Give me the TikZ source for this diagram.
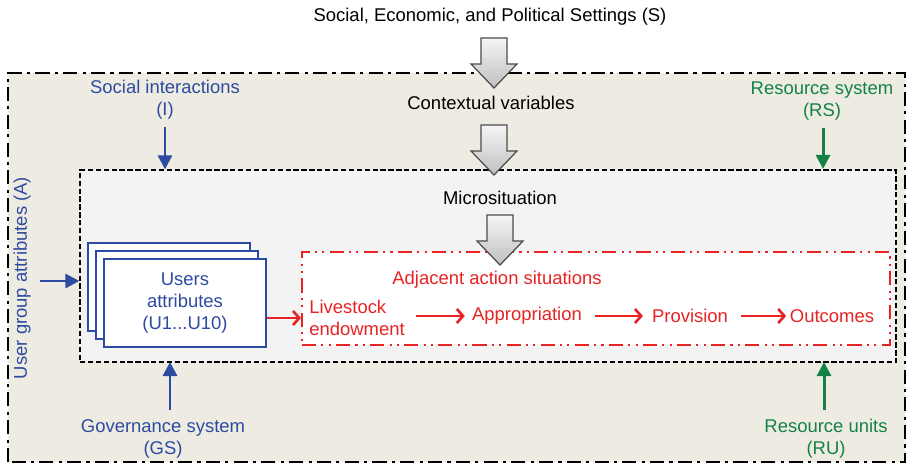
\documentclass[tikz,border=0pt]{standalone}
\usepackage{fontspec}
\setmainfont{Liberation Sans}
\usetikzlibrary{arrows.meta,positioning}
\definecolor{sesblue}{RGB}{45,75,160}
\definecolor{sesgreen}{RGB}{20,130,70}
\definecolor{sesred}{RGB}{232,35,35}
\definecolor{beige}{RGB}{238,236,226}
\definecolor{microgray}{RGB}{243,243,243}
\tikzset{%
  outerbox/.style = {draw, line width=1.3pt, fill=beige,%
                     dash pattern=on 8pt off 3pt on 1.8pt off 3pt},%
  microbox/.style = {draw, line width=0.7pt, fill=microgray,%
                     dash pattern=on 3pt off 1.5pt},%
  adjbox/.style   = {draw=sesred, line width=1.2pt, fill=white,%
                     dash pattern=on 8pt off 3pt on 1.2pt off 3pt on 1.2pt off 3pt},%
  userbox/.style  = {draw=sesblue, line width=1.1pt, fill=white,%
                     minimum width=3.24cm, minimum height=1.76cm},%
  txt/.style      = {align=center, font=\fontsize{10.5}{12.5}\selectfont},%
  redtxt/.style   = {txt, text=sesred, inner sep=1pt},%
  bluearrow/.style = {draw=sesblue, line width=1.7pt, -{Triangle[width=8pt,length=8pt]}},%
  greenarrow/.style = {bluearrow, draw=sesgreen},%
  redarrow/.style = {draw=sesred, line width=1.5pt, -{Straight Barb[length=3.5pt,width=8pt]}},%
  pics/grayarrow/.style = {code={%
     \draw[line width=0.7pt, draw=gray!60!black, top color=gray!8, bottom color=gray!50]
       (-0.26,0) -- (-0.26,-0.52) -- (-0.46,-0.52) -- (0,-1) -- (0.46,-0.52)
       -- (0.26,-0.52) -- (0.26,0) -- cycle;}}%
}
\begin{document}
\begin{tikzpicture}
  \useasboundingbox (0,0) rectangle (18.16,9.30);
  % outer frame and the two inner boxes
  \draw[outerbox] (0.16,0.06) rectangle (18.10,7.84);
  \node[microbox, minimum width=16.32cm, minimum height=3.84cm] (micro) at (9.76,3.98) {};
  \node[adjbox, minimum width=11.76cm, minimum height=1.86cm] (adj) at (11.92,3.33) {};

  % settings and contextual variables
  \node[txt] (settings) at (9.80,8.96) {Social, Economic, and Political Settings (S)};
  \node[txt] (context) at (9.82,7.24) {Contextual variables};
  \node[txt] (microlbl) at (10.0,5.34) {Microsituation};
  \pic at (9.88,8.54) {grayarrow};
  \pic at (9.88,6.80) {grayarrow};
  \pic at (10.0,5.00) {grayarrow};

  % users attributes (stacked)
  \node[userbox] (user3) at (3.38,3.56) {};
  \node[userbox] (user2) at (3.54,3.40) {};
  \node[userbox, txt, text=sesblue] (users) at (3.70,3.24) {Users\\attributes\\(U1...U10)};

  % adjacent action situations
  \node[redtxt] (adjlbl) at (9.94,3.70) {Adjacent action situations};
  \node[redtxt, align=left] (live) at (7.14,2.94) {Livestock\\endowment};
  \node[redtxt] (appr) at (10.54,2.98) {Appropriation};
  \node[redtxt] (prov) at (13.80,2.98) {Provision};
  \node[redtxt] (outc) at (16.64,2.98) {Outcomes};
  \draw[redarrow] (users.east |- live) -- (adj.west |- live);
  \draw[redarrow, shorten <=5pt, shorten >=3pt] (live.east |- appr) -- (appr.west);
  \draw[redarrow, shorten <=6pt, shorten >=4pt] (appr) -- (prov);
  \draw[redarrow, shorten <=6pt, shorten >=1pt] (prov) -- (outc);

  % first-tier variables around the microsituation
  \node[txt, text=sesblue] (social) at (3.30,7.30) {Social interactions\\(I)};
  \node[txt, text=sesgreen] (rsys) at (16.44,7.28) {Resource system\\(RS)};
  \node[txt, text=sesblue] (gov) at (3.26,0.52) {Governance system\\(GS)};
  \node[txt, text=sesgreen] (runits) at (16.52,0.52) {Resource units\\(RU)};
  \node[txt, text=sesblue, rotate=90] (group) at (0.44,3.74) {User group attributes (A)};
  \coordinate (groupend) at (0.80,3.68);

  \draw[bluearrow] (social.south) ++(0,-0.03) -- (social.south |- micro.north);
  \draw[greenarrow] (rsys.south) ++(0.02,-0.03) -- ++(0,-0.82);
  \draw[bluearrow] (3.40,1.10) -- (3.40,2.06);
  \draw[greenarrow] (16.48,1.10) -- (16.48,2.06);
  \draw[bluearrow] (groupend) -- (groupend -| micro.west);
\end{tikzpicture}
\end{document}
